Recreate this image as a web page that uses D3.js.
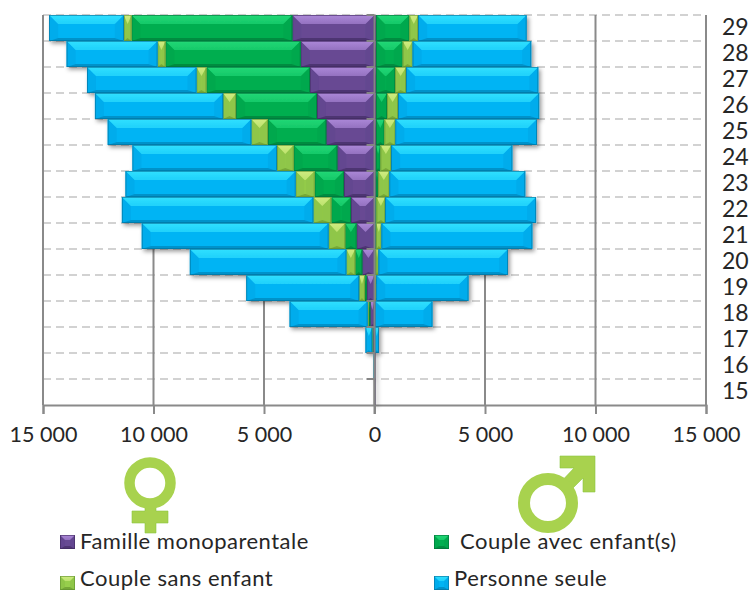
<!DOCTYPE html>
<html>
<head>
<meta charset="utf-8">
<script src="https://d3js.org/d3.v7.min.js"></script>
<style>
html, body { margin: 0; padding: 0; background: #fff; }
svg { display: block; }
text { font-family: Lato, "Open Sans", sans-serif; fill: #262626; }
</style>
</head>
<body>
<svg width="749" height="592"></svg>
<script>
const ages = [15, 16, 17, 18, 19, 20, 21, 22, 23, 24, 25, 26, 27, 28, 29];

// femmes
const femaleFamille = [10, 20, 80, 195, 350, 555, 815, 1070, 1385, 1685, 2185, 2605, 2925, 3345, 3720];
const femaleAvecEnfant = [0, 5, 15, 75, 90, 315, 510, 885, 1325, 1975, 2640, 3660, 4680, 6115, 7275];
const femaleSansEnfant = [0, 0, 10, 45, 255, 405, 755, 815, 860, 755, 750, 585, 450, 360, 350];
const femaleSeule = [0, 10, 300, 3525, 5105, 7080, 8450, 8660, 7695, 6535, 6495, 5800, 4955, 4110, 3375];

// hommes
const maleFamille = [5, 10, 5, 20, 30, 40, 45, 45, 60, 60, 75, 75, 75, 75, 75];
const maleAvecEnfant = [0, 0, 0, 5, 10, 15, 30, 45, 110, 210, 375, 495, 860, 1200, 1505];
const maleSansEnfant = [0, 0, 0, 5, 40, 125, 240, 395, 505, 485, 495, 495, 495, 450, 395];
const maleSeule = [0, 0, 195, 2590, 4170, 5860, 6825, 6825, 6145, 5480, 6405, 6385, 5980, 5365, 4905];

const xTicks = [-15000, -10000, -5000, 0, 5000, 10000, 15000];
const seriesNames = ['Famille monoparentale', 'Couple avec enfant(s)', 'Couple sans enfant', 'Personne seule'];

const palette = [
    { mid: '#674A93', top: '#AC88D8', side: '#634690', bottom: '#4E3572', edge: '#3F2A5E' },
    { mid: '#00AE50', top: '#22D876', side: '#00A84D', bottom: '#008C40', edge: '#00703A' },
    { mid: '#97CF4C', top: '#D0EC80', side: '#8FC648', bottom: '#76A838', edge: '#5F8F30' },
    { mid: '#00B4F4', top: '#30E0FF', side: '#00ACEC', bottom: '#0092CA', edge: '#0A6F98' }
];

const svg = d3.select('svg');

const x = d3.scaleLinear().domain([-15000, 15000]).range([43, 706]);
const y = d3.scaleBand().domain(ages).range([405, 15]).padding(0);

const defs = svg.append('defs');
const shadow = defs.append('filter').attr('id', 'shadow')
    .attr('x', '-5%').attr('y', '-5%').attr('width', '110%').attr('height', '110%');
shadow.append('feDropShadow')
    .attr('dx', 2).attr('dy', 2.5).attr('stdDeviation', 2)
    .attr('flood-color', '#000').attr('flood-opacity', 0.4);

palette.forEach((c, i) => {
    const g = defs.append('linearGradient').attr('id', 'top' + i)
        .attr('x1', 0).attr('y1', 0).attr('x2', 0).attr('y2', 1);
    g.append('stop').attr('offset', 0).attr('stop-color', c.top);
    g.append('stop').attr('offset', 1).attr('stop-color', d3.interpolateRgb(c.top, c.mid)(0.35));
});

// horizontal dashed grid, at the edges of the age bands
const grid = svg.append('g');
grid.selectAll('line.h')
    .data(ages)
    .enter().append('line')
    .attr('class', 'h')
    .attr('x1', x(-15000))
    .attr('x2', x(15000))
    .attr('y1', d => y(d))
    .attr('y2', d => y(d))
    .attr('stroke', '#d2d2d2')
    .attr('stroke-width', 2)
    .attr('stroke-dasharray', '8 5');

// vertical lines and bottom axis
const xAxis = d3.axisBottom(x)
    .tickValues(xTicks)
    .tickSize(9)
    .tickPadding(13)
    .tickFormat(d => d3.format(',')(Math.abs(d)).replace(',', ' '));

const xg = svg.append('g').attr('transform', 'translate(0,405)').call(xAxis);
xg.select('.domain').attr('stroke', '#8a8a8a').attr('stroke-width', 2);
xg.selectAll('line').attr('stroke', '#8a8a8a').attr('stroke-width', 2);
xg.selectAll('text').attr('font-size', 21.5).attr('font-family', 'Lato').attr('fill', '#262626');

svg.append('g').selectAll('line')
    .data(xTicks)
    .enter().append('line')
    .attr('x1', d => x(d))
    .attr('x2', d => x(d))
    .attr('y1', 15)
    .attr('y2', 405)
    .attr('stroke', '#8a8a8a')
    .attr('stroke-width', 2);

// bevelled rectangle, the way the Office theme draws it
function bevelRect(g, x0, y0, w, h, c, i, depth) {
    if (w <= 0) return;
    const dx = Math.min(depth, w / 2);
    const dy = Math.min(depth, h / 2);
    const bot = Math.min(3, dy);
    const x1 = x0 + w;
    const y1 = y0 + h;
    const poly = (pts, fill) => g.append('polygon')
        .attr('points', pts.map(p => p.join(',')).join(' '))
        .attr('fill', fill);
    g.append('rect').attr('x', x0).attr('y', y0).attr('width', w).attr('height', h).attr('fill', c.mid);
    poly([[x0, y0], [x0 + dx, y0 + dy], [x0 + dx, y1 - bot], [x0, y1]], c.side);
    poly([[x1, y0], [x1 - dx, y0 + dy], [x1 - dx, y1 - bot], [x1, y1]], c.side);
    poly([[x0, y1], [x0 + dx, y1 - bot], [x1 - dx, y1 - bot], [x1, y1]], c.bottom);
    poly([[x0, y0], [x1, y0], [x1 - dx, y0 + dy], [x0 + dx, y0 + dy]], `url(#top${i})`);
    g.append('rect').attr('x', x0 + 0.4).attr('y', y0 + 0.4)
        .attr('width', Math.max(w - 0.8, 0.2)).attr('height', h - 0.8)
        .attr('fill', 'none').attr('stroke', c.edge).attr('stroke-width', 0.8).attr('stroke-opacity', 0.75);
}

const keys = [0, 1, 2, 3];
const femaleRows = ages.map((age, j) => ({
    age, 0: femaleFamille[j], 1: femaleAvecEnfant[j], 2: femaleSansEnfant[j], 3: femaleSeule[j]
}));
const maleRows = ages.map((age, j) => ({
    age, 0: maleFamille[j], 1: maleAvecEnfant[j], 2: maleSansEnfant[j], 3: maleSeule[j]
}));
const stack = d3.stack().keys(keys);

const bars = svg.append('g').attr('filter', 'url(#shadow)');

function drawSide(rows, sign) {
    stack(rows).forEach((layer, i) => {
        layer.forEach(seg => {
            const a = x(sign * seg[0]);
            const b = x(sign * seg[1]);
            const g = bars.append('g');
            bevelRect(g, Math.min(a, b), y(seg.data.age), Math.abs(b - a), y.bandwidth(), palette[i], i, 9);
        });
    });
}
drawSide(femaleRows, -1);
drawSide(maleRows, 1);

// zero axis stays over the bars
svg.append('line')
    .attr('x1', x(0)).attr('x2', x(0))
    .attr('y1', 15).attr('y2', 414)
    .attr('stroke', '#858585').attr('stroke-width', 2);
svg.append('g').selectAll('line')
    .data(ages)
    .enter().append('line')
    .attr('x1', x(0) - 8)
    .attr('x2', x(0))
    .attr('y1', d => y(d))
    .attr('y2', d => y(d))
    .attr('stroke', '#858585')
    .attr('stroke-width', 2);

// ages on the right
const yAxis = d3.axisRight(y).tickSize(0).tickPadding(0);
const yg = svg.append('g').attr('transform', 'translate(722,0)').call(yAxis);
yg.select('.domain').remove();
yg.selectAll('text').attr('font-size', 23).attr('font-family', 'Lato').attr('fill', '#262626');

// symboles femme / homme
const symbolFill = '#A8D24E';
const symbolStroke = '#8CC63F';
const female = svg.append('g').attr('fill', symbolFill).attr('stroke', symbolStroke).attr('stroke-width', 0.6);
female.append('path').attr('d', 'M145,505 h11 v6 h12 v12 h-12 v10 h-11 v-10 h-13 v-12 h13 z');
female.append('circle').attr('cx', 150).attr('cy', 483).attr('r', 20.5)
    .attr('fill', 'none').attr('stroke', symbolFill).attr('stroke-width', 10.5);

const male = svg.append('g').attr('fill', symbolFill).attr('stroke', symbolStroke).attr('stroke-width', 0.6);
male.append('path').attr('d', 'M560,456 H595 V492 H583 V478 L566,495 L557,486 L574,468 H560 Z');
male.append('circle').attr('cx', 548).attr('cy', 503).attr('r', 24)
    .attr('fill', 'none').attr('stroke', symbolFill).attr('stroke-width', 12);

// legend
const legendX = [60, 434, 60, 434];
const legendY = [535, 535, 576, 576];
const legendBase = [549, 549, 586, 586];
const legendTextX = [80, 460, 80, 454];
seriesNames.forEach((name, i) => {
    const g = svg.append('g');
    bevelRect(g, legendX[i], legendY[i], 15, 14, palette[i], i, 5);
    svg.append('text')
        .attr('x', legendTextX[i])
        .attr('y', legendBase[i])
        .attr('font-size', 22)
        .attr('letter-spacing', 0.5)
        .text(name);
});
</script>
</body>
</html>
